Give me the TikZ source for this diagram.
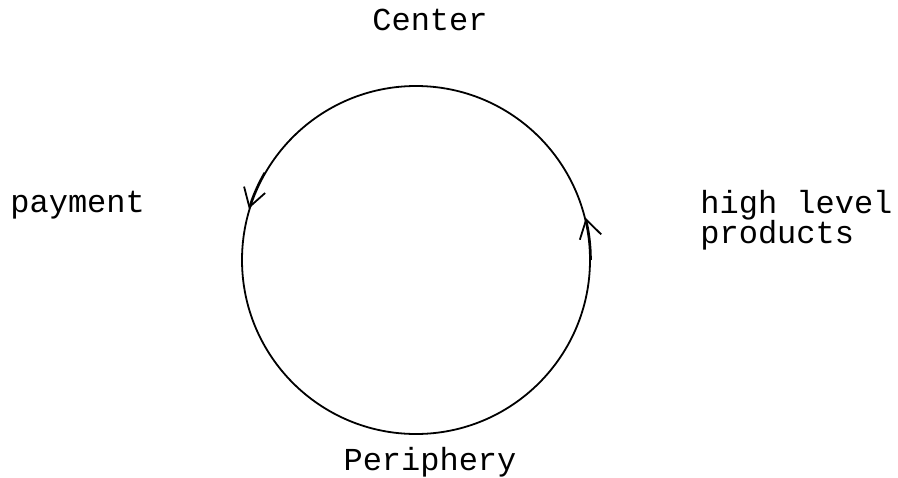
\documentclass[tikz,border=0pt]{standalone}
\usepackage{fontspec}
\setmonofont{Liberation Mono}
\usepackage{tikz}
\usetikzlibrary{arrows.meta, positioning}

\begin{document}
\begin{tikzpicture}[
  x=0.5pt, y=-0.5pt,
  every node/.style={font=\fontsize{16}{15}\selectfont\ttfamily},
  label/.style={align=left, inner sep=0pt},
  cycle/.style={circle, draw=black, line width=0.9pt, minimum size=174pt, inner sep=0pt},
  tip/.style={-{Straight Barb[length=9pt, width=11pt]}, line width=0.9pt},
]
\useasboundingbox (0,0) rectangle (898,477);

\node[cycle]  (loop)   at (416,260) {};
\node[label]  (center) at (430,20)  {Center};
\node[label]  (periph) at (430,462) {Periphery};
\node[label, anchor=west] (pay)  at (10,205)  {payment};
\node[label, anchor=west] (prod) at (700,220) {high level\\products};

% direction marks on the loop
\draw[tip] (loop.150) arc[start angle=150, end angle=163, radius=87pt];
\draw[tip] (loop.0)   arc[start angle=0,   end angle=14,  radius=87pt];

\end{tikzpicture}
\end{document}
